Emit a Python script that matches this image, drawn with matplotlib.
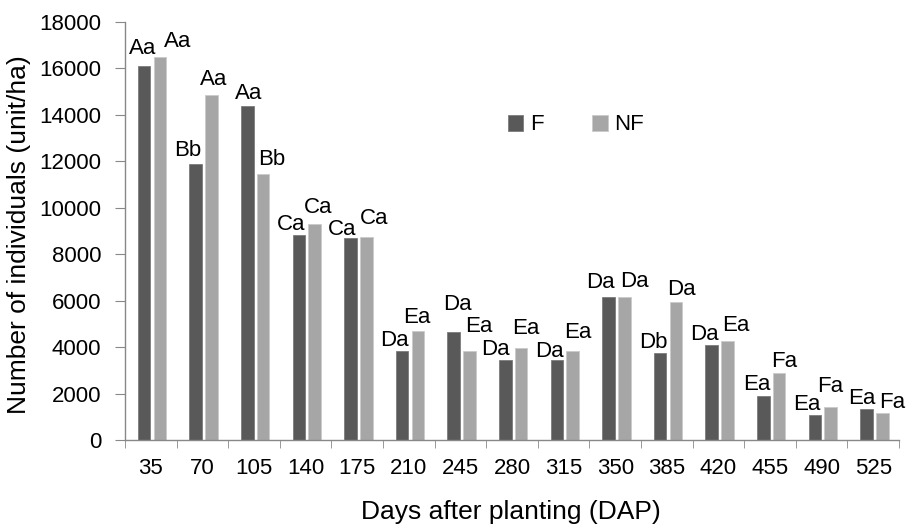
import matplotlib
matplotlib.use("Agg")
import matplotlib.pyplot as plt
import numpy as np

# ---- data ----
days = ["35", "70", "105", "140", "175", "210", "245", "280", "315", "350",
        "385", "420", "455", "490", "525"]
F_values = [16100, 11900, 14380, 8830, 8700, 3830, 4650, 3440, 3440, 6170,
            3760, 4100, 1890, 1090, 1350]
NF_values = [16500, 14850, 11450, 9300, 8750, 4710, 3830, 3960, 3830, 6170,
             5940, 4260, 2890, 1430, 1160]
F_labels = ["Aa", "Bb", "Aa", "Ca", "Ca", "Da", "Da", "Da", "Da", "Da",
            "Db", "Da", "Ea", "Ea", "Ea"]
NF_labels = ["Aa", "Aa", "Bb", "Ca", "Ca", "Ea", "Ea", "Ea", "Ea", "Da",
             "Da", "Ea", "Fa", "Fa", "Fa"]
y_ticks = [0, 2000, 4000, 6000, 8000, 10000, 12000, 14000, 16000, 18000]

# label placement (pixel offsets from bar top centre), as placed in the original
F_dx = [-1.4, -8.3, 1, -8, -8.3, -7.7, 4, -10, -7.5, -8, -7, -7, -6.7, -8.3, -4.7]
NF_dx = [17.5, 2.3, 9, 3, 8, -0.8, 9, 5, 5.5, 10, 5.3, 8.8, 4.7, -0.7, 9.6]
F_gap = [12, 8, 7, 5, 3, 5.3, 22, 5, 3.3, 8.4, 4.4, 4.7, 6, 4.7, 4.7]
NF_gap = [10, 10, 9, 11, 13, 7.4, 18.7, 14, 12.7, 10, 7, 10, 5.7, 15, 4.7]

plt.rcParams['font.family'] = ['Liberation Sans', 'DejaVu Sans']

W, H = 907, 529
fig = plt.figure(figsize=(W / 100, H / 100), dpi=100)
ax = fig.add_axes([125 / W, 1 - 440 / H, (899 - 125) / W, (440 - 22) / H])

x = np.arange(len(days))
w = 0.245
offF = -0.13
offNF = 0.175
cF = "#595959"
cNF = "#a6a6a6"
ax.bar(x + offF, F_values, w, color=cF, edgecolor="#7c7c7c", linewidth=0.6, label="F", zorder=2)
ax.bar(x + offNF, NF_values, w, color=cNF, edgecolor="#cacaca", linewidth=0.6, label="NF", zorder=2)

fs_lab = 16
for i in range(len(days)):
    ax.annotate(F_labels[i], (x[i] + offF, F_values[i]), xytext=(F_dx[i], F_gap[i]),
                textcoords="offset pixels", ha="center", va="baseline", fontsize=fs_lab)
    ax.annotate(NF_labels[i], (x[i] + offNF, NF_values[i]), xytext=(NF_dx[i], NF_gap[i]),
                textcoords="offset pixels", ha="center", va="baseline", fontsize=fs_lab)

ax.set_xlim(-0.5, len(days) - 0.5)
ax.set_ylim(0, 18000)
ax.set_yticks(y_ticks)
ax.set_yticklabels([str(v) for v in y_ticks], fontsize=16)
ax.set_xticks(x)
ax.set_xticklabels(days, fontsize=16)
ax.set_xticks(np.arange(len(days) + 1) - 0.5, minor=True)
ax.tick_params(axis="x", which="major", length=0, pad=13)
ax.tick_params(axis="x", which="minor", length=6, color="#888888", direction="out")
ax.tick_params(axis="y", which="major", length=7, color="#888888", direction="out", pad=10)

for s in ["top", "right"]:
    ax.spines[s].set_visible(False)
for s in ["left", "bottom"]:
    ax.spines[s].set_color("#888888")
    ax.spines[s].set_linewidth(1.0)

ax.set_ylabel("Number of individuals (unit/ha)", fontsize=19)
ax.yaxis.label.set_va("center")
ax.yaxis.set_label_coords((19 - 125) / (899 - 125), (440 - 235) / (440 - 22))
ax.set_xlabel("Days after planting (DAP)", fontsize=19)
ax.xaxis.label.set_va("center")
ax.xaxis.set_label_coords((511 - 125) / (899 - 125), (440 - 512) / (440 - 22))

fig.legend(loc="center", bbox_to_anchor=(576 / W, 1 - 125 / H), ncol=2, frameon=False,
           fontsize=16, handlelength=0.7, handleheight=0.7, handletextpad=0.3,
           columnspacing=2.2)

fig.savefig("out.png", dpi=100)
